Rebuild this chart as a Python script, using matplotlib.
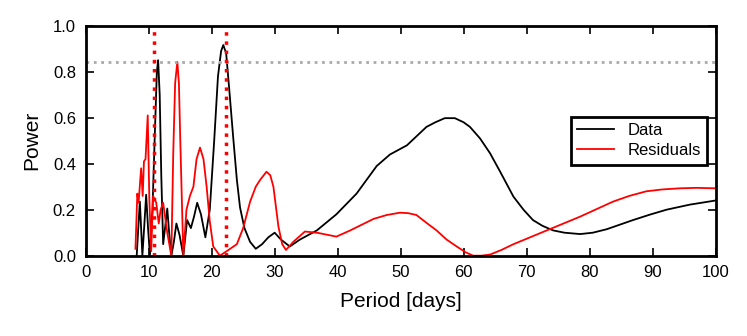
import numpy as np
import matplotlib
matplotlib.use("Agg")
import matplotlib.pyplot as plt

plt.rcParams['font.family'] = ['Liberation Sans', 'DejaVu Sans']

# periodogram of the data
data_period = [8.1, 8.35, 8.6, 8.8, 9.0, 9.3, 9.6, 9.9, 10.2, 10.6, 11.0, 11.3, 11.5,
               11.75, 12.0, 12.3, 12.6, 12.95, 13.25, 13.6, 14.0, 14.4, 14.9, 15.5,
               16.1, 16.7, 17.2, 17.7, 18.3, 19.0, 19.7, 20.4, 21.0, 21.5, 21.85,
               22.3, 22.8, 23.4, 24.0, 24.5, 25.2, 26.1, 27.0, 28.0, 29.0, 30.0,
               31.0, 32.4, 34.0, 36.7, 39.8, 43.0, 46.2, 48.3, 51.0, 54.1, 55.5,
               57.0, 58.6, 60.0, 61.0, 62.6, 64.2, 65.8, 67.9, 69.5, 71.0, 72.5,
               74.2, 76.0, 78.5, 80.5, 82.7, 84.8, 86.9, 89.5, 92.2, 95.9, 100.0]
data_power = [0.0, 0.12, 0.235, 0.12, 0.0, 0.13, 0.265, 0.12, 0.0, 0.2, 0.55, 0.8, 0.85,
              0.7, 0.35, 0.05, 0.12, 0.205, 0.1, 0.0, 0.06, 0.14, 0.09, 0.0,
              0.155, 0.12, 0.17, 0.23, 0.18, 0.08, 0.2, 0.5, 0.78, 0.89, 0.916,
              0.88, 0.72, 0.52, 0.33, 0.21, 0.12, 0.06, 0.03, 0.05, 0.08, 0.10,
              0.07, 0.04, 0.07, 0.11, 0.18, 0.27, 0.39, 0.44, 0.48, 0.56, 0.58,
              0.598, 0.598, 0.58, 0.56, 0.51, 0.445, 0.365, 0.257, 0.2, 0.155, 0.13,
              0.11, 0.1, 0.094, 0.1, 0.115, 0.135, 0.155, 0.178, 0.2, 0.222, 0.24]

# periodogram of the residuals
res_period = [7.9, 8.2, 8.4, 8.8, 9.05, 9.25, 9.5, 9.85, 10.1, 10.4, 10.7, 11.2, 11.6,
              11.9, 12.3, 12.95, 13.6, 13.9, 14.2, 14.55, 14.8, 15.0, 15.5, 16.0,
              16.55, 17.1, 17.6, 18.15, 18.7, 19.2, 19.7, 20.25, 21.3, 22.4, 24.0,
              25.0, 26.1, 27.0, 27.7, 28.7, 29.3, 29.8, 30.6, 31.2, 31.8, 32.95,
              34.8, 36.7, 39.8, 42.0, 45.7, 47.8, 49.9, 51.2, 52.5, 54.0, 55.7,
              57.3, 58.9, 60.3, 61.5, 62.8, 64.2, 66.0, 67.9, 73.2, 78.5, 83.7,
              86.3, 89.0, 91.5, 94.3, 97.0, 100.0]
res_power = [0.03, 0.27, 0.23, 0.38, 0.26, 0.41, 0.42, 0.61, 0.25, 0.02, 0.26, 0.23, 0.14,
             0.2, 0.23, 0.1, 0.0, 0.445, 0.75, 0.843, 0.75, 0.52, 0.0, 0.2,
             0.26, 0.30, 0.42, 0.47, 0.42, 0.3, 0.15, 0.04, 0.0, 0.02, 0.05,
             0.12, 0.235, 0.30, 0.33, 0.365, 0.35, 0.30, 0.126, 0.05, 0.025, 0.06,
             0.105, 0.10, 0.083, 0.11, 0.16, 0.177, 0.187, 0.185, 0.177, 0.145, 0.11,
             0.07, 0.04, 0.015, 0.0, 0.0, 0.005, 0.025, 0.05, 0.11, 0.17, 0.235,
             0.26, 0.28, 0.288, 0.293, 0.295, 0.293]

fap_level = 0.843
peaks = [10.84, 22.2]

fig = plt.figure(figsize=(7.47, 3.36), dpi=100)
ax = fig.add_axes([0.1147, 0.239, 0.8433, 0.6845])

ax.plot(data_period, data_power, color='black', lw=1.3, label='Data')
ax.plot(res_period, res_power, color='red', lw=1.3, label='Residuals')
ax.axhline(fap_level, color='#aaaaaa', ls=':', lw=2)
for p in peaks:
    ax.axvline(p, color='red', ls=':', lw=2.5)

ax.set_xlim(0, 100)
ax.set_ylim(0, 1)
ax.set_xticks(np.arange(0, 101, 10))
ax.set_yticks(np.arange(0, 1.01, 0.2))
ax.set_xlabel('Period [days]', fontsize=15, labelpad=8)
ax.set_ylabel('Power', fontsize=15, labelpad=8)
ax.tick_params(direction='in', top=True, right=True, length=6, width=1.2,
               labelsize=12, pad=7)
for s in ax.spines.values():
    s.set_linewidth(2)

leg = ax.legend(loc='center right', fontsize=12, fancybox=False,
                edgecolor='black', framealpha=1, handlelength=2.2,
                borderaxespad=0.5, labelspacing=0.3)
leg.get_frame().set_linewidth(2)

fig.savefig('out.png', dpi=100)
